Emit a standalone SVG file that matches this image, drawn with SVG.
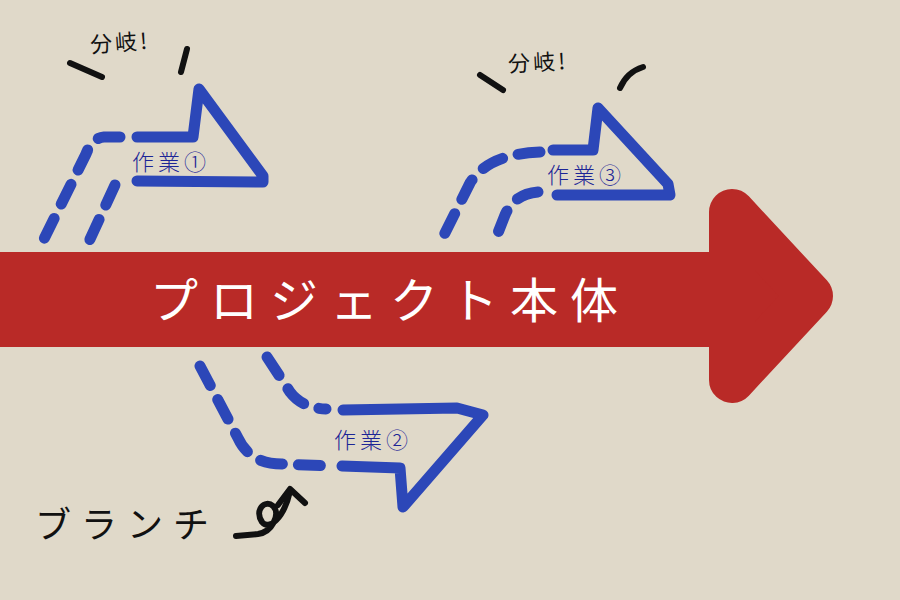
<svg xmlns="http://www.w3.org/2000/svg" width="900" height="600" viewBox="0 0 900 600">
<style>
.blue{fill:none;stroke:#2c47b8;stroke-width:11;stroke-linecap:round;stroke-linejoin:round}
.dash{stroke-dasharray:22 16}
.ink{fill:none;stroke:#111;stroke-width:6;stroke-linecap:round;stroke-linejoin:round}
.lbl{font-family:"Noto Sans CJK JP",sans-serif;font-size:22px;fill:#1c2596;font-weight:300;letter-spacing:4px}
.exc{font-family:"Noto Sans CJK JP",sans-serif;font-size:22px;fill:#111;font-weight:400;letter-spacing:3px}
</style>
<rect width="900" height="600" fill="#e0d9c9"/>
<g id="main">
<rect x="0" y="252" width="740" height="95" fill="#b92a27"/>
<polygon points="732,212 810,296 732,380" fill="#b92a27" stroke="#b92a27" stroke-width="46" stroke-linejoin="round"/>
<text x="390" y="318" text-anchor="middle" font-family="Noto Sans CJK JP,sans-serif" font-size="48" fill="#fff" letter-spacing="12">プロジェクト本体</text>
</g>
<g id="connectors">
<path class="blue dash" d="M120,137 L104,137 Q92,138 86,154 L42,243"/>
<path class="blue dash" d="M115,185 L85,250"/>
<path class="blue dash" d="M540,152 Q488,154 470,183 L440,243"/>
<path class="blue dash" d="M538,192 Q514,194 505,215 L494,243"/>
<path class="blue dash" d="M200,366 L238,438 Q250,464 282,464 L330,466"/>
<path class="blue dash" d="M267,357 L290,392 Q302,408 326,409"/>
</g>
<g id="task1">
<path class="blue" d="M137,137 L193,137 L199,89 L263,176 L263,182 L137,181"/>
<text class="lbl" x="132" y="170">作業①</text>
</g>
<g id="note1">
<text class="exc" x="90" y="50" transform="rotate(-4 130 42)">分岐!</text>
<path class="ink" d="M70,63 L102,77"/>
<path class="ink" d="M187,49 L181,72"/>
</g>
<g id="task3">
<path class="blue" d="M553,150 L593,150 L598,108 L668,184 L670,195 L557,195"/>
<text class="lbl" x="547" y="183">作業③</text>
</g>
<g id="note3">
<text class="exc" x="508" y="70" transform="rotate(-3 548 62)">分岐!</text>
<path class="ink" d="M480,75 L503,90"/>
<path class="ink" d="M620,88 Q627,72 643,67"/>
</g>
<g id="task2">
<path class="blue" d="M343,410 L457,408 L483,415 L403,507 L400,468 L342,466"/>
<text class="lbl" x="334" y="448">作業②</text>
</g>
<g id="branch">
<text x="35" y="538" font-family="Noto Sans CJK JP,sans-serif" font-size="36" fill="#111" letter-spacing="10">ブランチ</text>
<path class="ink" d="M236,536 L258,534 C272,532 281,514 273,506 C265,499 254,510 262,522 C269,531 284,518 290,491"/>
<path class="ink" d="M278,505 L290,489 L305,503"/>
</g>
</svg>
